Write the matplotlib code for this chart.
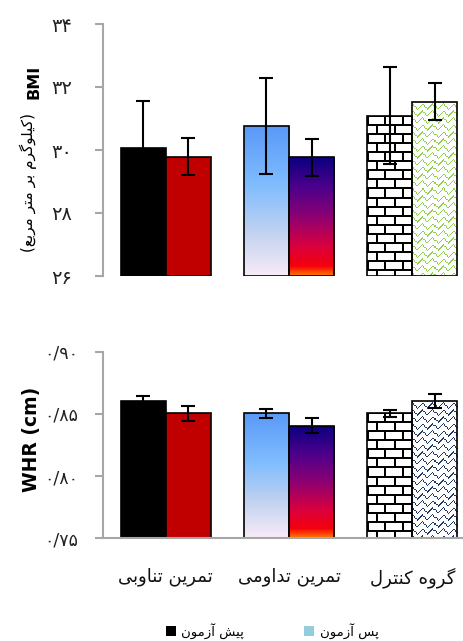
import numpy as np
import matplotlib
matplotlib.use("Agg")
import matplotlib.pyplot as plt
from matplotlib.colors import LinearSegmentedColormap, to_rgb
from matplotlib.patches import Patch

# -------------------------
# data
# -------------------------
groups = ["تمرین تناوبی", "تمرین تداومی", "گروه کنترل"]
series = ["پیش آزمون", "پس آزمون"]

bmi_pre = [30.07, 30.77, 31.09]
bmi_pre_sd = [1.50, 1.53, 1.55]
bmi_post = [29.79, 29.77, 31.53]
bmi_post_sd = [0.59, 0.58, 0.59]

whr_pre = [0.8606, 0.8505, 0.8505]
whr_pre_sd = [0.0035, 0.0035, 0.003]
whr_post = [0.8505, 0.8405, 0.8606]
whr_post_sd = [0.006, 0.006, 0.0055]

bmi_ticks = [26, 28, 30, 32, 34]
whr_ticks = [0.75, 0.80, 0.85, 0.90]

# -------------------------
# simple persian shaping (no raqm in matplotlib)
# -------------------------
FORMS = {
    "ا": (0xFE8D, 0xFE8E), "آ": (0xFE81, 0xFE82),
    "د": (0xFEA9, 0xFEAA), "ر": (0xFEAD, 0xFEAE),
    "ز": (0xFEAF, 0xFEB0), "و": (0xFEED, 0xFEEE),
    "ب": (0xFE8F, 0xFE90, 0xFE91, 0xFE92), "پ": (0xFB56, 0xFB57, 0xFB58, 0xFB59),
    "ت": (0xFE95, 0xFE96, 0xFE97, 0xFE98), "س": (0xFEB1, 0xFEB2, 0xFEB3, 0xFEB4),
    "ش": (0xFEB5, 0xFEB6, 0xFEB7, 0xFEB8), "ع": (0xFEC9, 0xFECA, 0xFECB, 0xFECC),
    "ک": (0xFB8E, 0xFB8F, 0xFB90, 0xFB91), "گ": (0xFB92, 0xFB93, 0xFB94, 0xFB95),
    "ل": (0xFEDD, 0xFEDE, 0xFEDF, 0xFEE0), "م": (0xFEE1, 0xFEE2, 0xFEE3, 0xFEE4),
    "ن": (0xFEE5, 0xFEE6, 0xFEE7, 0xFEE8), "ه": (0xFEE9, 0xFEEA, 0xFEEB, 0xFEEC),
    "ی": (0xFBFC, 0xFBFD, 0xFBFE, 0xFBFF),
}
MIRROR = {"(": ")", ")": "("}


def fa(text):
    out = []
    for i, c in enumerate(text):
        if c not in FORMS:
            out.append(MIRROR.get(c, c))
            continue
        prev = text[i - 1] if i > 0 else ""
        nxt = text[i + 1] if i + 1 < len(text) else ""
        f = FORMS[c]
        jp = prev in FORMS and len(FORMS[prev]) == 4
        jn = nxt in FORMS and len(f) == 4
        if jp and jn:
            k = 3
        elif jp:
            k = 1
        elif jn:
            k = 2
        else:
            k = 0
        out.append(chr(f[k]))
    return "".join(reversed(out))


def fa_digits(s):
    return s.translate(str.maketrans("0123456789.", "۰۱۲۳۴۵۶۷۸۹/"))


# -------------------------
# fills
# -------------------------
blue_grad = LinearSegmentedColormap.from_list(
    "bl", [(0, (0.35, 0.6, 0.97)), (0.4, (0.5, 0.74, 1.0)), (0.7, (0.75, 0.82, 0.94)), (1, (0.97, 0.92, 0.97))])
sunset_grad = LinearSegmentedColormap.from_list(
    "ss", [(0, (0.04, 0.0, 0.5)), (0.25, (0.3, 0.0, 0.55)), (0.5, (0.55, 0.0, 0.45)),
           (0.75, (0.85, 0.0, 0.25)), (0.92, (0.96, 0.0, 0.05)), (1, (1.0, 0.45, 0.0))])


def gradient_tex(h, w, cmap):
    v = np.linspace(0, 1, max(h, 2))
    return np.repeat(cmap(v)[:, None, :3], max(w, 2), axis=1)


def brick_tex(h, w, bh=9, bw=17, lw=2):
    t = np.ones((h, w, 3))
    for r in range(h):
        if r % bh < lw:
            t[r, :] = 0
            continue
        off = ((r // bh) % 2) * (bw // 2)
        for c in range(w):
            if (c + off) % bw < lw:
                t[r, c] = 0
    return t


def zigzag_tex(h, w, color, per=10, vper=7):
    t = np.ones((h, w, 3))
    rgb = to_rgb(color)
    for r in range(h):
        for c in range(w):
            d = (r + abs((c % per) - per // 2)) % vper
            if d < 2 and (r + c) % 3 != 0:
                t[r, c] = rgb
    return t


# -------------------------
# figure
# -------------------------
fig = plt.figure(figsize=(4.64, 6.41), dpi=100)
ax1 = fig.add_axes([103 / 464, (641 - 276) / 641, 1 - 103 / 464, 252 / 641])
ax2 = fig.add_axes([103 / 464, (641 - 538.3) / 641, 1 - 103 / 464, 186.6 / 641])

x = np.arange(len(groups))
w = 0.367
spine_col = "#a6a6a6"


def draw(ax, pre, pre_sd, post, post_sd, ylim, zig_color):
    ax.set_xlim(-0.51, 2.42)
    ax.set_ylim(*ylim)
    styles = [
        ("solid", "black"), ("solid", "#c00000"),
        ("grad", blue_grad), ("grad", sunset_grad),
        ("brick", None), ("zig", zig_color),
    ]
    k = 0
    for i in range(len(groups)):
        for j, (vals, sds) in enumerate([(pre, pre_sd), (post, post_sd)]):
            kind, c = styles[k]
            k += 1
            xc = x[i] + (j - 0.5) * w
            fc = c if kind == "solid" else "none"
            bar = ax.bar(xc, vals[i] - ylim[0], w, bottom=ylim[0], color=fc,
                         edgecolor="black", linewidth=1.2, zorder=2)[0]
            if kind != "solid":
                x0, x1 = xc - w / 2, xc + w / 2
                p0 = ax.transData.transform((x0, ylim[0]))
                p1 = ax.transData.transform((x1, vals[i]))
                hp, wp = int(round(p1[1] - p0[1])), int(round(p1[0] - p0[0]))
                if kind == "grad":
                    tex = gradient_tex(hp, wp, c)
                elif kind == "brick":
                    tex = brick_tex(hp, wp)
                else:
                    tex = zigzag_tex(hp, wp, c)
                im = ax.imshow(tex, extent=[x0, x1, ylim[0], vals[i]], aspect="auto",
                               interpolation="nearest", origin="upper", zorder=1)
                im.set_clip_path(bar)
            ax.errorbar(xc, vals[i], yerr=sds[i], fmt="none", ecolor="black",
                        elinewidth=1.5, capsize=5, capthick=1.5, zorder=3)
    ax.set_xlim(-0.51, 2.42)
    ax.set_ylim(*ylim)
    for s in ["top", "right"]:
        ax.spines[s].set_visible(False)
    ax.spines["left"].set_color(spine_col)
    ax.spines["left"].set_linewidth(1.5)
    ax.spines["bottom"].set_color(spine_col)
    ax.spines["bottom"].set_linewidth(1.5)


draw(ax1, bmi_pre, bmi_pre_sd, bmi_post, bmi_post_sd, (26, 34), "#92d050")
draw(ax2, whr_pre, whr_pre_sd, whr_post, whr_post_sd, (0.75, 0.90), "#1f3864")

ax1.spines["bottom"].set_visible(False)
ax1.set_xticks([])
ax1.set_yticks(bmi_ticks)
ax1.set_yticklabels([fa_digits(str(t)) for t in bmi_ticks], fontsize=14, color="#222222")
ax1.tick_params(axis="y", direction="out", length=6, width=1.5, color=spine_col, pad=16)

ax2.set_yticks(whr_ticks)
ax2.set_yticklabels([fa_digits("%.2f" % t) for t in whr_ticks], fontsize=12.5, color="#222222")
ax2.tick_params(axis="y", direction="out", length=6, width=1.5, color=spine_col, pad=12)
ax2.set_xticks(x)
ax2.set_xticklabels([fa(g) for g in groups], fontsize=13, color="#111111")
ax2.tick_params(axis="x", length=0, pad=21)

# axis titles
fig.text(34 / 464, 1 - 82 / 641, "BMI", rotation=90, fontsize=11.5, fontweight="bold",
         ha="center", va="center")
fig.text(28 / 464, 1 - 183 / 641, fa("(کیلوگرم بر متر مربع)"), rotation=90, fontsize=11,
         ha="center", va="center")
fig.text(32 / 464, 1 - 439 / 641, "WHR (cm)", rotation=90, fontsize=13.5, fontweight="bold",
         ha="center", va="center")

# legend
handles = [Patch(facecolor="black"), Patch(facecolor="#93cddd")]
fig.legend(handles, [fa(s) for s in series], loc="center", bbox_to_anchor=(272 / 464, 1 - 631 / 641),
           ncol=2, frameon=False, fontsize=9.5, handlelength=0.8, handleheight=0.8,
           handletextpad=0.4, columnspacing=4.5)

fig.savefig("out.png", dpi=100)
print("Saved: out.png")
